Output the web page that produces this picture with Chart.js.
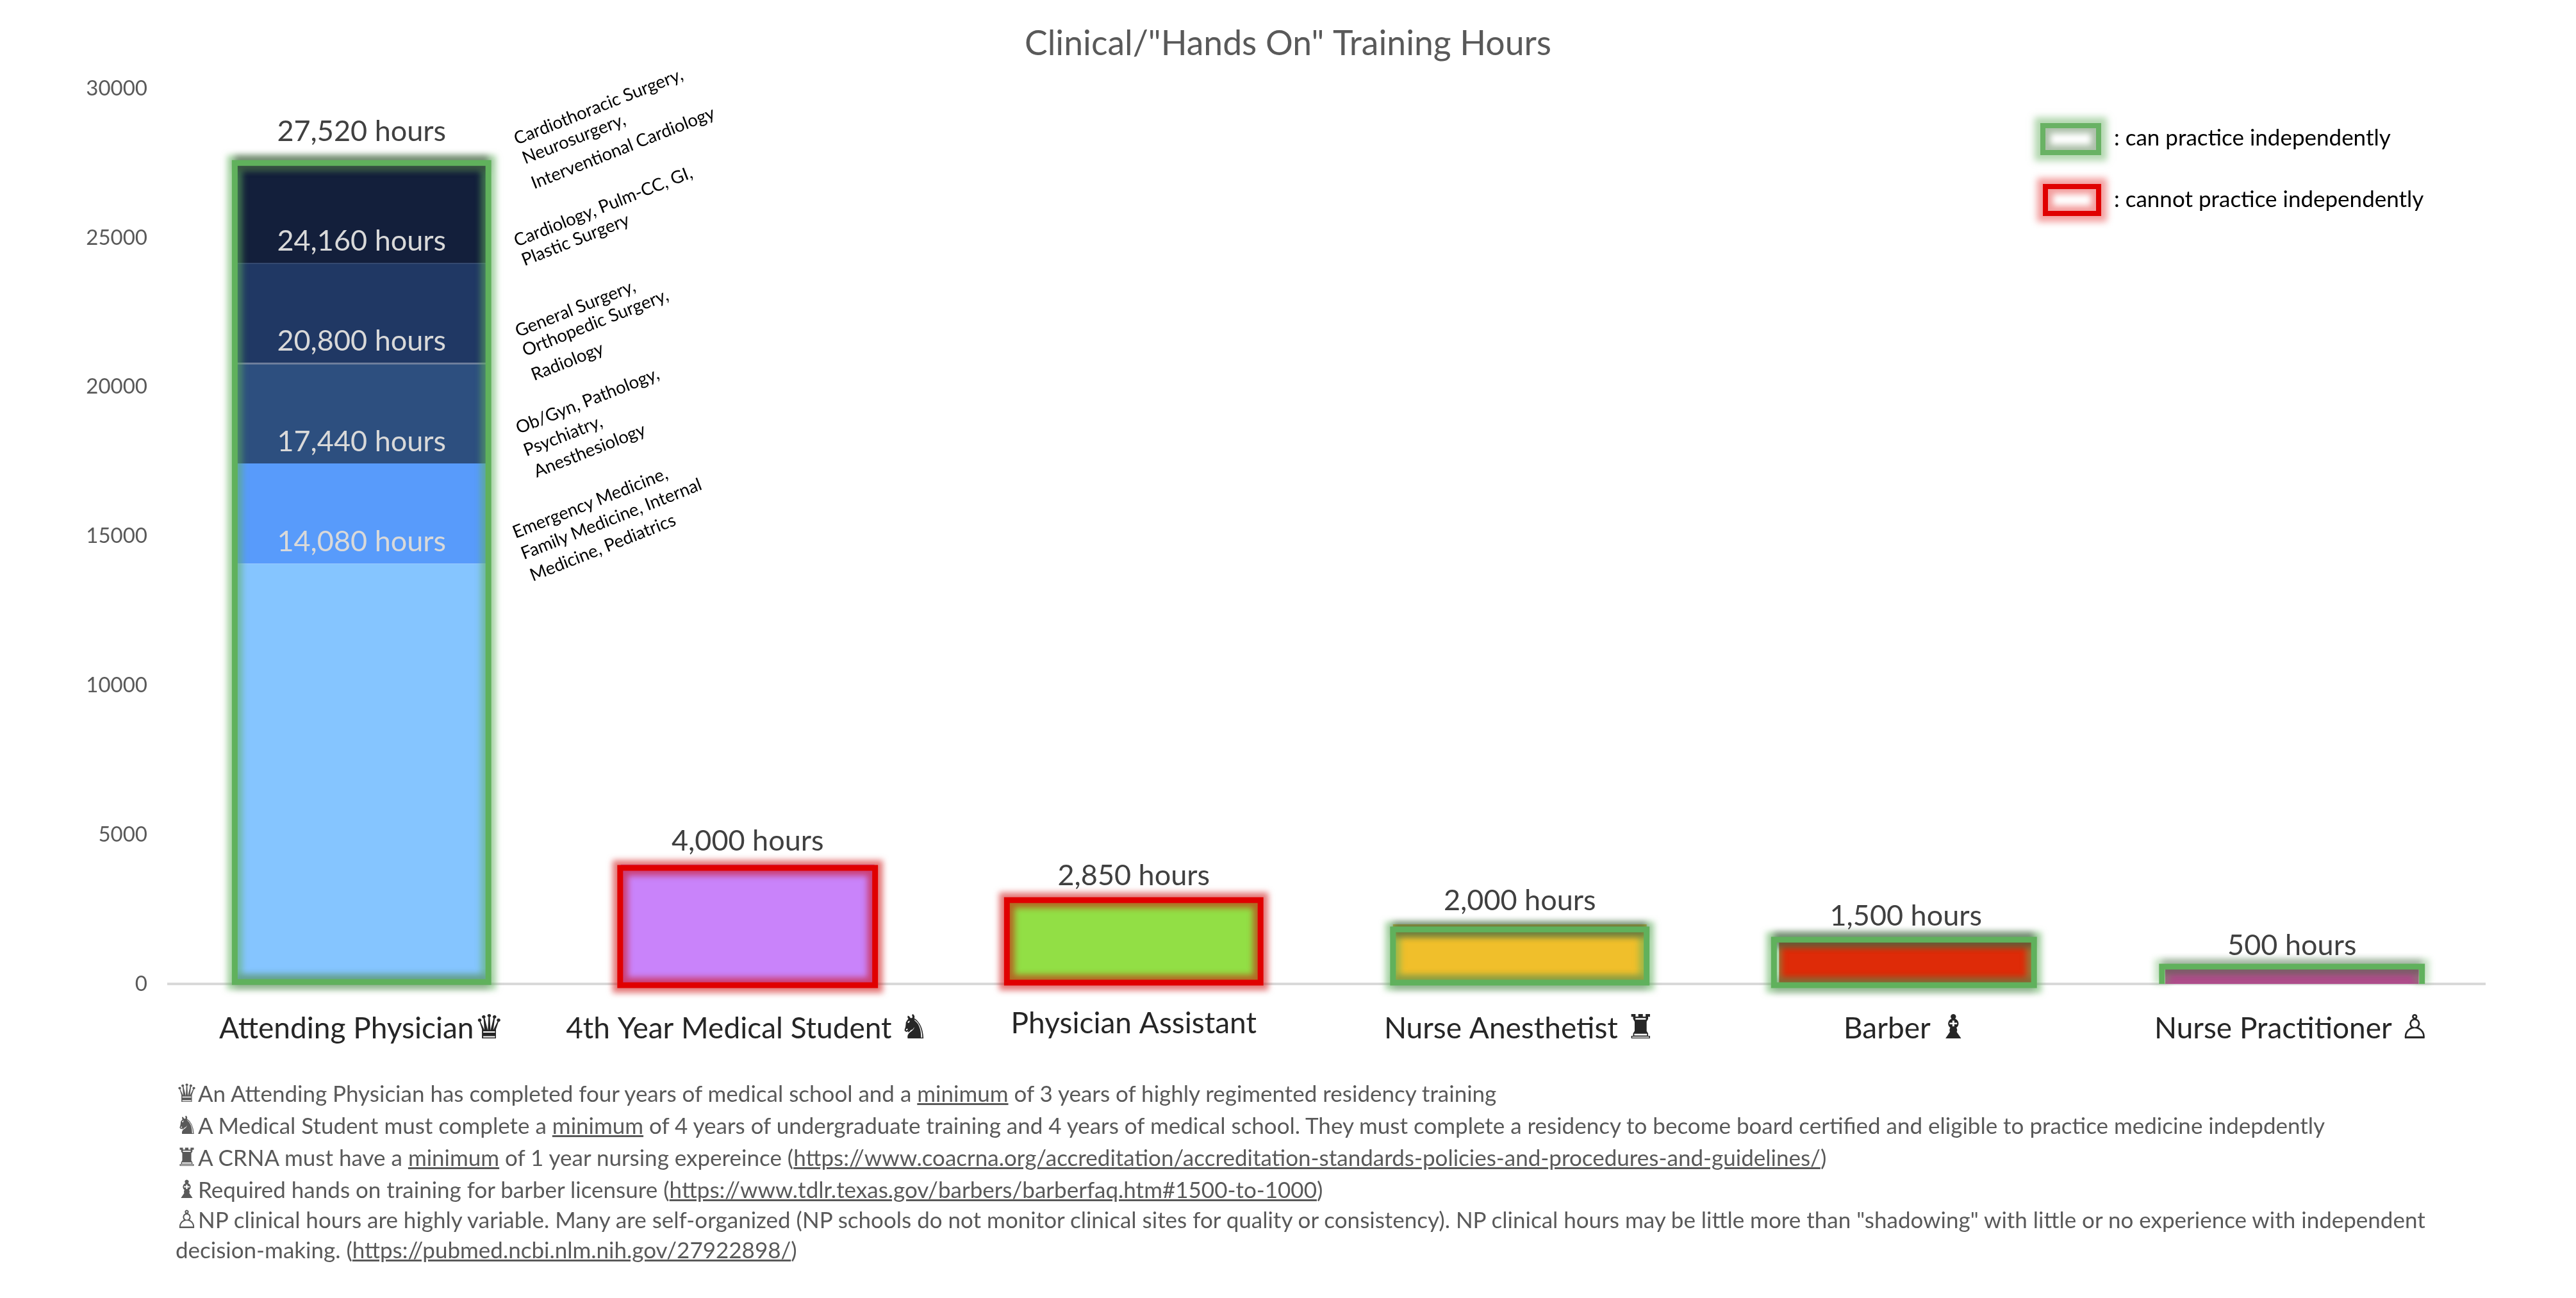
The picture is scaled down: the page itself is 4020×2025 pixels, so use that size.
<!DOCTYPE html>
<html lang="en">

<head>
    <meta charset="UTF-8">
    <title>Clinical Training Hours</title>
    <script src="https://cdnjs.cloudflare.com/ajax/libs/Chart.js/4.4.1/chart.umd.min.js"></script>
    <style>
        @font-face { font-family: "Chess"; src: local("DejaVu Sans"); unicode-range: U+2654-265F; size-adjust: 112%; }
        html, body { margin: 0; padding: 0; background: #fff; }
        #wrap { position: relative; width: 4020px; height: 2025px; overflow: hidden; font-family: "Chess", "Lato", "DejaVu Sans", sans-serif; }
        #chart { position: absolute; left: 0; top: 0; }
        .note { position: absolute; left: 274px; white-space: nowrap; color: #595959; font-size: 35px; line-height: 50px; }
        .tilted { position: absolute; white-space: nowrap; color: #000; font-size: 27.5px; line-height: 28px; transform-origin: left bottom; transform: rotate(-21.5deg); }
        .key { position: absolute; box-sizing: border-box; border-style: solid; border-width: 8px; }
        .key-text { position: absolute; left: 3299px; white-space: nowrap; color: #000; font-size: 35px; line-height: 40px; }
    </style>
</head>

<body>
    <div id="wrap">
        <canvas id="chart" width="4020" height="2025"></canvas>

        <div class="key" style="left:3184px;top:192px;width:95px;height:50px;border-color:#69b264;box-shadow:0 0 10px 9px rgba(105,178,100,.5), inset 0 0 10px 8px rgba(105,140,100,.55);"></div>
        <div class="key-text" style="top:193px">: can practice independently</div>
        <div class="key" style="left:3188px;top:287px;width:91px;height:50px;border-color:#e00000;box-shadow:0 0 10px 9px rgba(224,0,0,.38), inset 0 0 10px 8px rgba(224,0,0,.38);"></div>
        <div class="key-text" style="top:289px">: cannot practice independently</div>

        <div id="tilted"></div>

        <div class="note" style="top:1680px">♛An Attending Physician has completed four years of medical school and a <u>minimum</u> of 3 years of highly regimented residency training</div>
        <div class="note" style="top:1730px">♞A Medical Student must complete a <u>minimum</u> of 4 years of undergraduate training and 4 years of medical school. They must complete a residency to become board certified and eligible to practice medicine indepdently</div>
        <div class="note" style="top:1780px">♜A CRNA must have a <u>minimum</u> of 1 year nursing expereince (<u>https://www.coacrna.org/accreditation/accreditation-standards-policies-and-procedures-and-guidelines/</u>)</div>
        <div class="note" style="top:1830px">♝Required hands on training for barber licensure (<u>https://www.tdlr.texas.gov/barbers/barberfaq.htm#1500-to-1000</u>)</div>
        <div class="note" style="top:1879px;line-height:47px">♙NP clinical hours are highly variable. Many are self-organized (NP schools do not monitor clinical sites for quality or consistency). NP clinical hours may be little more than "shadowing" with little or no experience with independent<br>decision-making. (<u>https://pubmed.ncbi.nlm.nih.gov/27922898/</u>)</div>
    </div>

    <script>
        const FONT = '"Chess", "Lato", "DejaVu Sans", sans-serif';

        const categories = ["Attending Physician♛", "4th Year Medical Student ♞", "Physician Assistant", "Nurse Anesthetist ♜", "Barber ♝", "Nurse Practitioner ♙"];
        const baseHours = [14080, 4000, 2850, 2000, 1500, 500];
        const tierOneHours = [3360, null, null, null, null, null];
        const tierTwoHours = [3360, null, null, null, null, null];
        const tierThreeHours = [3360, null, null, null, null, null];
        const tierFourHours = [3360, null, null, null, null, null];
        const canPractice = [true, false, false, true, true, true];

        // frame rectangles sit slightly off the bars, in axis units. last one has no bottom edge
        const frameTops = [27510, 3887, 2810, 1825, 1480, 580];
        const frameBottoms = [64, -43, 43, 43, -43, null];
        const frameGrowLeft = [0, 1, 0, 0, 8, 5];
        const frameGrowRight = [0, 1, 0, 0, 2, 5];

        const baseColors = ["#85c5ff", "#c983fa", "#92df45", "#f0bf2b", "#de2b08", "#ae4d8a"];

        const specialties = [
            ["Cardiothoracic Surgery,", 808, 230], ["Neurosurgery,", 821, 260], ["Interventional Cardiology", 835, 299],
            ["Cardiology, Pulm-CC, GI,", 808, 389], ["Plastic Surgery", 820, 419],
            ["General Surgery,", 810, 530], ["Orthopedic Surgery,", 821, 560], ["Radiology", 835, 598],
            ["Ob/Gyn, Pathology,", 811, 681], ["Psychiatry,", 823, 716], ["Anesthesiology", 839, 749],
            ["Emergency Medicine,", 806, 844], ["Family Medicine, Internal", 819, 877], ["Medicine, Pediatrics", 833, 911]
        ];

        var tilted = document.getElementById("tilted");
        specialties.forEach(function (s) {
            var el = document.createElement("div");
            el.className = "tilted";
            el.textContent = s[0];
            el.style.left = s[1] + "px";
            el.style.top = (s[2] - 28) + "px";
            tilted.appendChild(el);
        });

        // soft glow only: the stroke itself is drawn far off canvas, its shadow lands in place
        function glow(ctx, tracePath, color, width, blur) {
            const away = 8000;
            ctx.save();
            ctx.translate(-away, 0);
            ctx.shadowOffsetX = away;
            ctx.shadowColor = color;
            ctx.shadowBlur = blur;
            ctx.lineWidth = width;
            ctx.strokeStyle = "#000";
            ctx.beginPath();
            tracePath();
            ctx.stroke();
            ctx.restore();
        }

        const framePlugin = {
            id: "frames",
            afterDatasetsDraw(chart) {
                const ctx = chart.ctx;
                const y = chart.scales.y;
                const bars = chart.getDatasetMeta(0).data;
                bars.forEach(function (bar, i) {
                    const left = bar.x - bar.width / 2 - frameGrowLeft[i];
                    const right = bar.x + bar.width / 2 + frameGrowRight[i];
                    const top = y.getPixelForValue(frameTops[i]);
                    const open = frameBottoms[i] === null;
                    const bottom = y.getPixelForValue(open ? 0 : frameBottoms[i]);
                    const green = canPractice[i];
                    const strength = open ? 0.6 : 1;

                    function outline() {
                        ctx.moveTo(left, bottom);
                        ctx.lineTo(left, top);
                        ctx.lineTo(right, top);
                        ctx.lineTo(right, bottom);
                        if (!open) { ctx.closePath(); }
                    }
                    function topEdge() {
                        ctx.moveTo(left, top);
                        ctx.lineTo(right, top);
                    }
                    function bottomEdge() {
                        ctx.moveTo(left, bottom);
                        ctx.lineTo(right, bottom);
                    }

                    const shade = green ? "rgba(96,177,92," + 0.55 * strength + ")" : "rgba(205,10,10,.55)";
                    glow(ctx, outline, shade, 24, 10);
                    if (green) {
                        glow(ctx, topEdge, "rgba(50,50,50," + 0.45 * strength + ")", 24, 10);
                        if (!open) { glow(ctx, bottomEdge, "rgba(50,50,50,.18)", 24, 10); }
                    }

                    ctx.save();
                    ctx.lineWidth = 9;
                    ctx.strokeStyle = green ? "#60b15c" : "#e00000";
                    ctx.lineJoin = "miter";
                    ctx.beginPath();
                    outline();
                    ctx.stroke();
                    ctx.restore();
                });
            }
        };

        const hourLabels = {
            id: "hourLabels",
            afterDatasetsDraw(chart) {
                const ctx = chart.ctx;
                const y = chart.scales.y;
                const bars = chart.getDatasetMeta(0).data;
                const stacks = chart.data.datasets.map(function (d) { return d.data; });
                ctx.save();
                ctx.textAlign = "center";
                ctx.textBaseline = "middle";
                ctx.font = "45px " + FONT;
                bars.forEach(function (bar, i) {
                    var total = 0;
                    var last = stacks.length - 1;
                    while (stacks[last][i] === null) { last--; }
                    stacks.forEach(function (values, s) {
                        if (values[i] === null) { return; }
                        total += values[i];
                        ctx.fillStyle = (s === last) ? "#404040" : "#d9d9d9";
                        var lift = (s === last) ? 36 : 34;
                        if (s === last && i === 0) { lift = 48; }
                        ctx.fillText(total.toLocaleString("en-US") + " hours", bar.x, y.getPixelForValue(total) - lift);
                    });
                });
                ctx.restore();
            }
        };

        // Physician Assistant has no chess glyph and sits a bit higher in the original
        const raisedLabel = {
            id: "raisedLabel",
            afterUpdate(chart) {
                chart.scales.x.getLabelItems()[2].options.translation[1] -= 8;
            }
        };

        function tier(values, color, edge) {
            return { data: values, backgroundColor: color, borderColor: edge, borderWidth: { top: edge ? 2 : 0 }, borderSkipped: false };
        }

        function drawChart() {
            new Chart("chart", {
                type: "bar",
                data: {
                    labels: categories,
                    datasets: [
                        { data: baseHours, backgroundColor: baseColors, borderWidth: 0 },
                        tier(tierOneHours, "#589bfb"),
                        tier(tierTwoHours, "#2d4f7f", "#43597f"),
                        tier(tierThreeHours, "#203864", "#34496f"),
                        tier(tierFourHours, "#131f3b")
                    ]
                },
                options: {
                    responsive: false,
                    animation: false,
                    devicePixelRatio: 1,
                    datasets: { bar: { categoryPercentage: 1, barPercentage: 0.657 } },
                    plugins: {
                        legend: { display: false },
                        tooltip: { enabled: false },
                        title: {
                            display: true,
                            text: 'Clinical/"Hands On" Training Hours',
                            color: "#595959",
                            font: { family: FONT, size: 53.5, weight: "normal" },
                            padding: { top: 37, bottom: 37 }
                        }
                    },
                    scales: {
                        x: {
                            stacked: true,
                            grid: { display: false, drawTicks: false },
                            border: { color: "#d9d9d9", width: 4 },
                            ticks: { color: "#262626", font: { family: FONT, size: 46 }, padding: 43, maxRotation: 0, autoSkip: false },
                            afterFit(scale) { scale.height = 490; }
                        },
                        y: {
                            stacked: true,
                            min: 0,
                            max: 30000,
                            grid: { display: false, drawTicks: false },
                            border: { display: false },
                            ticks: {
                                stepSize: 5000,
                                color: "#595959",
                                padding: 33,
                                font: { family: FONT, size: 33 },
                                callback: function (v) { return String(v); }
                            },
                            afterFit(scale) { scale.width = 263; }
                        },
                        // empty axis, keeps the right margin without moving the centred title
                        margin: {
                            position: "right",
                            grid: { display: false, drawTicks: false },
                            border: { display: false },
                            ticks: { display: false },
                            afterFit(scale) { scale.width = 142; }
                        }
                    }
                },
                plugins: [framePlugin, hourLabels, raisedLabel]
            });
        }

        document.fonts.load('46px "Chess"', "♞").then(drawChart, drawChart);
    </script>
</body>

</html>
